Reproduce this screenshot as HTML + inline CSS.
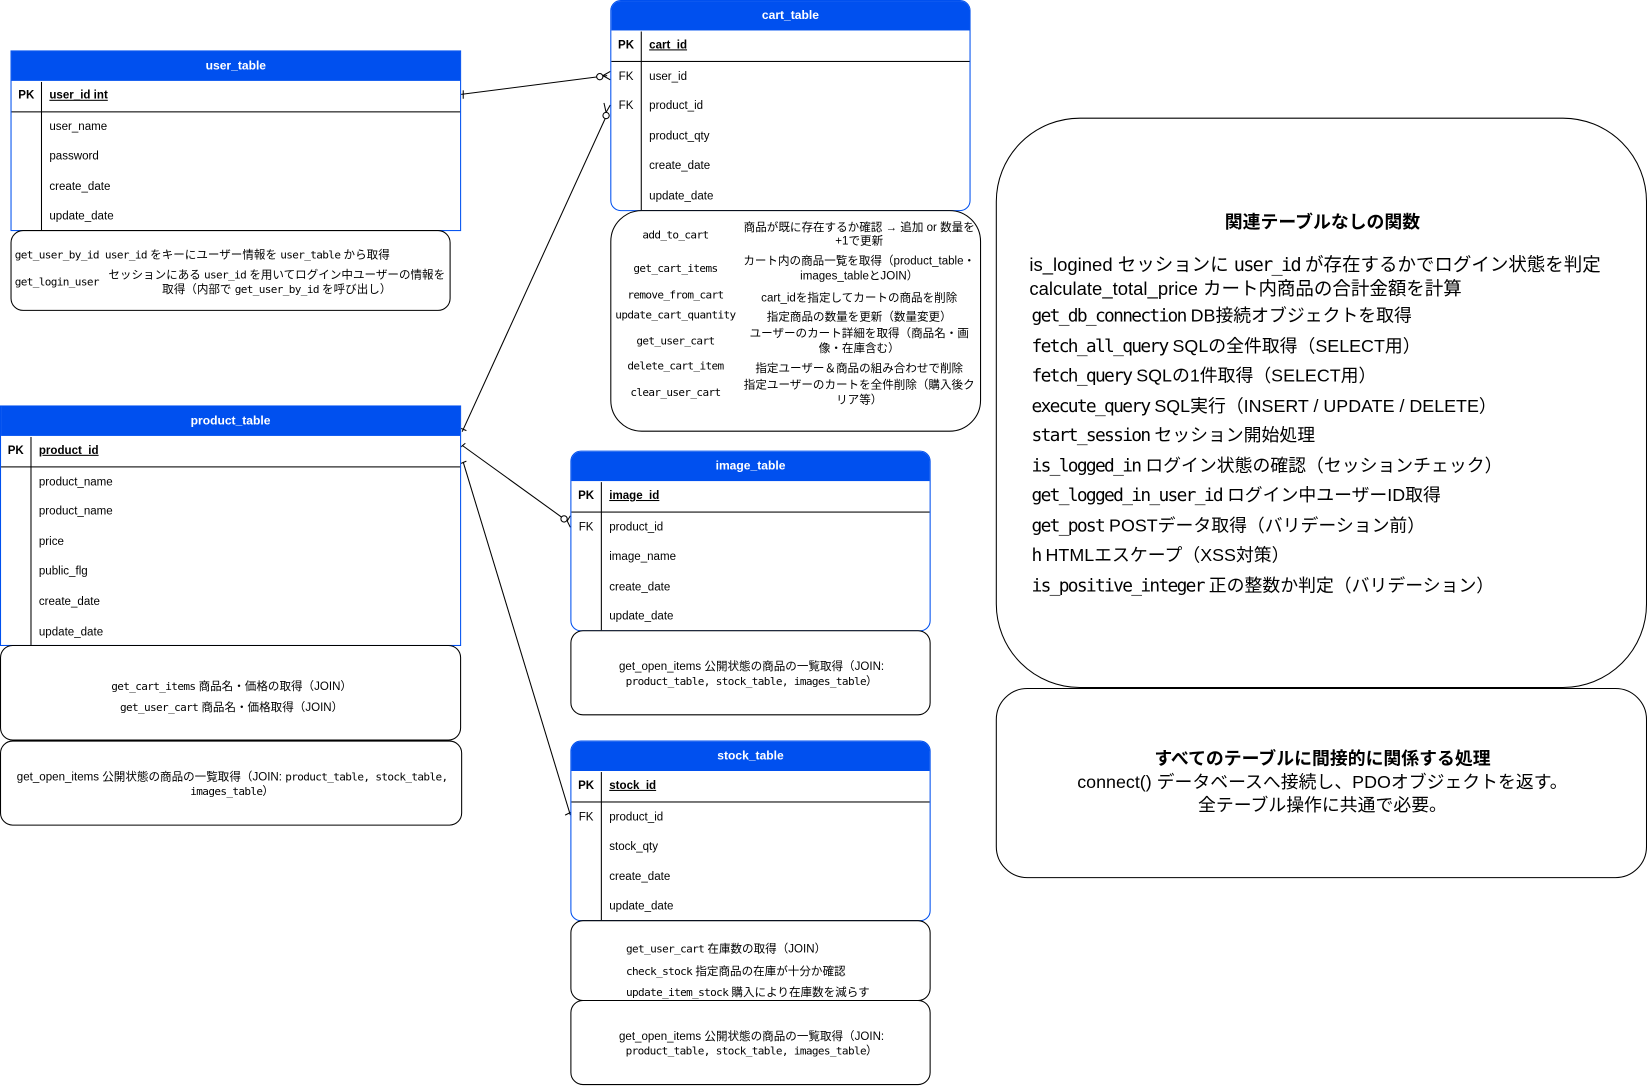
<!DOCTYPE html>
<html><head><meta charset="utf-8"><style>
html,body{margin:0;padding:0;background:#fff;width:1647px;height:1086px;overflow:hidden}
#w{position:absolute;left:0;top:0;width:1568px;height:1034px;transform:scale(1.0504);transform-origin:0 0;font-family:"Liberation Sans","Noto Sans CJK JP",sans-serif;font-size:11px;color:#000}
.t{position:absolute;border:1px solid #0050ef;background:#fff;box-sizing:border-box}
.h{background:#0050ef;color:#fff;font-weight:bold;font-size:11.5px;text-align:center;height:28px;line-height:28px}
.r{position:relative;height:28.6px;line-height:28.6px}
.r .k{position:absolute;left:0;width:28px;text-align:center;font-weight:bold}
.r .n{position:absolute;left:36px}
.pk{border-bottom:1px solid #000}
.pk .n{text-decoration:underline;font-weight:bold}
.vl{position:absolute;top:28px;bottom:0;width:1px;background:#000}
.b{position:absolute;border:1px solid #000;border-radius:12px;box-sizing:border-box;background:#fff}
.m{font-family:"DejaVu Sans Mono","Liberation Mono",monospace;font-size:10.5px;letter-spacing:-0.6px}
.c{position:absolute;text-align:center}
.big{font-size:17px;line-height:28.5px;white-space:nowrap}
.big .m{font-size:17px;letter-spacing:-1.6px}
</style></head><body><div id="w">

<svg width="1568" height="1034" style="position:absolute;left:0;top:0" fill="none" stroke="#000" stroke-width="1">
<line x1="438" y1="90" x2="578" y2="72"/><line x1="441" y1="86" x2="441" y2="94"/>
<circle cx="571" cy="73" r="3" fill="#fff"/><line x1="574" y1="72" x2="581" y2="68"/><line x1="574" y1="72" x2="581" y2="76"/>
<line x1="577" y1="111" x2="440" y2="411"/><circle cx="577" cy="110" r="3" fill="#fff"/><line x1="577" y1="107" x2="581" y2="100"/><line x1="577" y1="107" x2="575" y2="98"/>
<line x1="437" y1="407" x2="444" y2="410"/>
<line x1="440" y1="424" x2="537" y2="494"/><circle cx="537" cy="494" r="3" fill="#fff"/><line x1="540" y1="496" x2="543" y2="491"/><line x1="540" y1="496" x2="543" y2="502"/>
<line x1="437" y1="427" x2="443" y2="422"/>
<line x1="441" y1="440" x2="543" y2="776"/><line x1="437" y1="442" x2="444" y2="439"/><line x1="538" y1="776" x2="546" y2="772"/>
</svg>

<div class="t" style="left:10px;top:48px;width:429px;height:172px">
<div class="h">user_table</div>
<div class="r pk"><span class="k">PK</span><span class="n">user_id int</span></div>
<div class="r"><span class="n">user_name</span></div><div class="r"><span class="n">password</span></div>
<div class="r"><span class="n">create_date</span></div><div class="r"><span class="n">update_date</span></div>
<div class="vl" style="left:28px;top:29px"></div></div>
<div class="b" style="left:10px;top:219px;width:419px;height:77px">
<div style="position:absolute;left:3px;top:14px"><span class="m">get_user_by_id user_id</span> をキーにユーザー情報を <span class="m">user_table</span> から取得</div>
<div class="m" style="position:absolute;left:3px;top:43px">get_login_user</div>
<div class="c" style="left:90px;top:35px;width:325px;line-height:14px">セッションにある <span class="m">user_id</span> を用いてログイン中ユーザーの情報を取得（内部で <span class="m">get_user_by_id</span> を呼び出し）</div>
</div>

<div class="t" style="left:581px;top:0;width:343px;height:201px;border-radius:10px 10px 10px 10px;overflow:hidden">
<div class="h">cart_table</div>
<div class="r pk"><span class="k">PK</span><span class="n">cart_id</span></div>
<div class="r"><span class="k" style="font-weight:normal">FK</span><span class="n">user_id</span></div>
<div class="r"><span class="k" style="font-weight:normal">FK</span><span class="n">product_id</span></div>
<div class="r"><span class="n">product_qty</span></div><div class="r"><span class="n">create_date</span></div><div class="r"><span class="n">update_date</span></div>
<div class="vl" style="left:28px;top:29px"></div></div>
<div class="b" style="left:581px;top:200px;width:353px;height:211px;border-radius:30px">
<div class="m c" style="left:0;width:122px;top:17px">add_to_cart</div>
<div class="c" style="left:122px;width:228px;top:10px;line-height:13px">商品が既に存在するか確認 → 追加 or 数量を+1で更新</div>
<div class="m c" style="left:0;width:122px;top:49px">get_cart_items</div>
<div class="c" style="left:122px;width:228px;top:41px;line-height:14px">カート内の商品一覧を取得（product_table・images_tableとJOIN）</div>
<div class="m c" style="left:0;width:122px;top:74px">remove_from_cart</div>
<div class="c" style="left:122px;width:228px;top:74px">cart_idを指定してカートの商品を削除</div>
<div class="m c" style="left:0;width:122px;top:93px">update_cart_quantity</div>
<div class="c" style="left:122px;width:228px;top:92px">指定商品の数量を更新（数量変更）</div>
<div class="m c" style="left:0;width:122px;top:118px">get_user_cart</div>
<div class="c" style="left:122px;width:228px;top:110px;line-height:14px">ユーザーのカート詳細を取得（商品名・画像・在庫含む）</div>
<div class="m c" style="left:0;width:122px;top:142px">delete_cart_item</div>
<div class="c" style="left:122px;width:228px;top:141px">指定ユーザー＆商品の組み合わせで削除</div>
<div class="m c" style="left:0;width:122px;top:167px">clear_user_cart</div>
<div class="c" style="left:122px;width:228px;top:159px;line-height:14px">指定ユーザーのカートを全件削除（購入後クリア等）</div>
</div>

<div class="t" style="left:0;top:386px;width:439px;height:229px">
<div class="h">product_table</div>
<div class="r pk"><span class="k">PK</span><span class="n">product_id</span></div>
<div class="r"><span class="n">product_name</span></div><div class="r"><span class="n">product_name</span></div>
<div class="r"><span class="n">price</span></div><div class="r"><span class="n">public_flg</span></div>
<div class="r"><span class="n">create_date</span></div><div class="r"><span class="n">update_date</span></div>
<div class="vl" style="left:28px;top:29px"></div></div>
<div class="b" style="left:0;top:614px;width:439px;height:91px">
<div class="c" style="left:0;width:439px;top:29px;line-height:20px"><span class="m">get_cart_items</span> 商品名・価格の取得（JOIN）<br><span class="m">get_user_cart</span> 商品名・価格取得（JOIN）</div></div>
<div class="b" style="left:0;top:705px;width:440px;height:81px">
<div class="c" style="left:8px;width:424px;top:27px;line-height:14px">get_open_items 公開状態の商品の一覧取得（JOIN: <span class="m">product_table, stock_table, images_table</span>）</div></div>

<div class="t" style="left:543px;top:429px;width:343px;height:172px;border-radius:10px;overflow:hidden">
<div class="h">image_table</div>
<div class="r pk"><span class="k">PK</span><span class="n">image_id</span></div>
<div class="r"><span class="k" style="font-weight:normal">FK</span><span class="n">product_id</span></div>
<div class="r"><span class="n">image_name</span></div><div class="r"><span class="n">create_date</span></div><div class="r"><span class="n">update_date</span></div>
<div class="vl" style="left:28px;top:29px"></div></div>
<div class="b" style="left:543px;top:600px;width:343px;height:81px">
<div class="c" style="left:8px;width:327px;top:27px;line-height:14px">get_open_items 公開状態の商品の一覧取得（JOIN: <span class="m">product_table, stock_table, images_table</span>）</div></div>

<div class="t" style="left:543px;top:705px;width:343px;height:172px;border-radius:10px;overflow:hidden">
<div class="h">stock_table</div>
<div class="r pk"><span class="k">PK</span><span class="n">stock_id</span></div>
<div class="r"><span class="k" style="font-weight:normal">FK</span><span class="n">product_id</span></div>
<div class="r"><span class="n">stock_qty</span></div><div class="r"><span class="n">create_date</span></div><div class="r"><span class="n">update_date</span></div>
<div class="vl" style="left:28px;top:29px"></div></div>
<div class="b" style="left:543px;top:876px;width:343px;height:77px">
<div style="position:absolute;left:52px;top:17px;line-height:20.5px"><span class="m">get_user_cart</span> 在庫数の取得（JOIN）<br><span class="m">check_stock</span> 指定商品の在庫が十分か確認<br><span class="m">update_item_stock</span> 購入により在庫数を減らす</div></div>
<div class="b" style="left:543px;top:952px;width:343px;height:81px">
<div class="c" style="left:8px;width:327px;top:27px;line-height:14px">get_open_items 公開状態の商品の一覧取得（JOIN: <span class="m">product_table, stock_table, images_table</span>）</div></div>

<div class="b" style="left:948px;top:112px;width:620px;height:543px;border-radius:80px">
<div class="c" style="left:0;width:620px;top:84px;font-size:17px;font-weight:bold">関連テーブルなしの関数</div>
<div class="big" style="position:absolute;left:31px;top:128px;line-height:22px;font-size:17.6px">is_logined セッションに <span class="m" style="font-size:17.6px">user_id</span> が存在するかでログイン状態を判定<br>calculate_total_price カート内商品の合計金額を計算</div>
<div class="big" style="position:absolute;left:33px;top:174px">
<span class="m">get_db_connection</span> DB接続オブジェクトを取得<br>
<span class="m">fetch_all_query</span> SQLの全件取得（SELECT用）<br>
<span class="m">fetch_query</span> SQLの1件取得（SELECT用）<br>
<span class="m">execute_query</span> SQL実行（INSERT / UPDATE / DELETE）<br>
<span class="m">start_session</span> セッション開始処理<br>
<span class="m">is_logged_in</span> ログイン状態の確認（セッションチェック）<br>
<span class="m">get_logged_in_user_id</span> ログイン中ユーザーID取得<br>
<span class="m">get_post</span> POSTデータ取得（バリデーション前）<br>
<span class="m">h</span> HTMLエスケープ（XSS対策）<br>
<span class="m">is_positive_integer</span> 正の整数か判定（バリデーション）</div>
</div>
<div class="b" style="left:948px;top:655px;width:620px;height:181px;border-radius:30px">
<div class="c" style="left:0;width:620px;top:56px;font-size:17px;line-height:22px"><b>すべてのテーブルに間接的に関係する処理</b><br>connect() データベースへ接続し、PDOオブジェクトを返す。<br>全テーブル操作に共通で必要。</div>
</div>

</div></body></html>
